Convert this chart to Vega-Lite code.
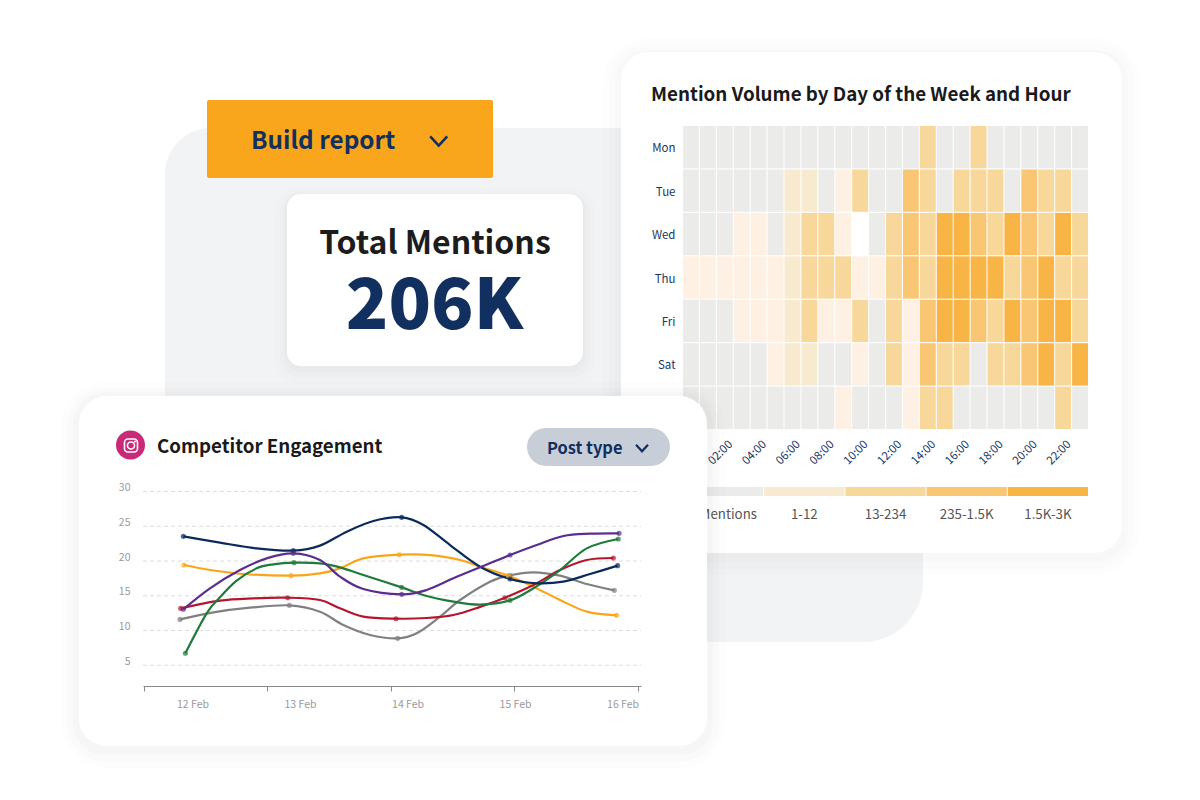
{
"$schema":"https://vega.github.io/schema/vega-lite/v6.json",
"width":1200,"height":800,"padding":0,"autosize":{"type":"none"},"background":"#ffffff",
"config":{"view":{"stroke":null},"font":"Noto Sans CJK SC","text":{"font":"Noto Sans CJK SC"}},
"data":{"values":[{}]},
"resolve":{"scale":{"x":"independent","y":"independent","color":"independent"},"axis":{"x":"independent","y":"independent"}},
"layer":[
{"mark":{"type":"rect","x":165,"x2":923,"y":128,"y2":642,"fill":"#f2f3f5","cornerRadiusTopLeft":46,"cornerRadiusBottomRight":60},"encoding":{}},

{"mark":{"type":"rect","x":603,"x2":1140,"y":38,"y2":575,"fill":"#000","opacity":0.006,"cornerRadius":44},"encoding":{}},
{"mark":{"type":"rect","x":609,"x2":1134,"y":44,"y2":569,"fill":"#000","opacity":0.008,"cornerRadius":38},"encoding":{}},
{"mark":{"type":"rect","x":615,"x2":1128,"y":50,"y2":562,"fill":"#000","opacity":0.01,"cornerRadius":32},"encoding":{}},
{"mark":{"type":"rect","x":621,"x2":1122,"y":52,"y2":553,"fill":"#ffffff","cornerRadius":28},"encoding":{}},
{"mark":{"type":"text","x":651,"y":101,"align":"left","baseline":"alphabetic","fontSize":18.8,"fontWeight":700,"fill":"#1a1a1a","text":"Mention Volume by Day of the Week and Hour"},"encoding":{}},

{"data":{"values":[
{"d":"Mon","h":"00:00","b":"0 Mentions"},{"d":"Mon","h":"01:00","b":"0 Mentions"},{"d":"Mon","h":"02:00","b":"0 Mentions"},{"d":"Mon","h":"03:00","b":"0 Mentions"},{"d":"Mon","h":"04:00","b":"0 Mentions"},{"d":"Mon","h":"05:00","b":"0 Mentions"},{"d":"Mon","h":"06:00","b":"0 Mentions"},{"d":"Mon","h":"07:00","b":"0 Mentions"},{"d":"Mon","h":"08:00","b":"0 Mentions"},{"d":"Mon","h":"09:00","b":"0 Mentions"},{"d":"Mon","h":"10:00","b":"0 Mentions"},{"d":"Mon","h":"11:00","b":"0 Mentions"},{"d":"Mon","h":"12:00","b":"0 Mentions"},{"d":"Mon","h":"13:00","b":"0 Mentions"},{"d":"Mon","h":"14:00","b":"13-234"},{"d":"Mon","h":"15:00","b":"0 Mentions"},{"d":"Mon","h":"16:00","b":"0 Mentions"},{"d":"Mon","h":"17:00","b":"13-234"},{"d":"Mon","h":"18:00","b":"0 Mentions"},{"d":"Mon","h":"19:00","b":"0 Mentions"},{"d":"Mon","h":"20:00","b":"0 Mentions"},{"d":"Mon","h":"21:00","b":"0 Mentions"},{"d":"Mon","h":"22:00","b":"0 Mentions"},{"d":"Mon","h":"23:00","b":"0 Mentions"},
{"d":"Tue","h":"00:00","b":"0 Mentions"},{"d":"Tue","h":"01:00","b":"0 Mentions"},{"d":"Tue","h":"02:00","b":"0 Mentions"},{"d":"Tue","h":"03:00","b":"0 Mentions"},{"d":"Tue","h":"04:00","b":"0 Mentions"},{"d":"Tue","h":"05:00","b":"0 Mentions"},{"d":"Tue","h":"06:00","b":"1-12"},{"d":"Tue","h":"07:00","b":"1-12"},{"d":"Tue","h":"08:00","b":"0 Mentions"},{"d":"Tue","h":"09:00","b":"trace"},{"d":"Tue","h":"10:00","b":"13-234"},{"d":"Tue","h":"11:00","b":"0 Mentions"},{"d":"Tue","h":"12:00","b":"0 Mentions"},{"d":"Tue","h":"13:00","b":"235-1.5K"},{"d":"Tue","h":"14:00","b":"13-234"},{"d":"Tue","h":"15:00","b":"0 Mentions"},{"d":"Tue","h":"16:00","b":"13-234"},{"d":"Tue","h":"17:00","b":"13-234"},{"d":"Tue","h":"18:00","b":"13-234"},{"d":"Tue","h":"19:00","b":"0 Mentions"},{"d":"Tue","h":"20:00","b":"235-1.5K"},{"d":"Tue","h":"21:00","b":"13-234"},{"d":"Tue","h":"22:00","b":"13-234"},{"d":"Tue","h":"23:00","b":"0 Mentions"},
{"d":"Wed","h":"00:00","b":"0 Mentions"},{"d":"Wed","h":"01:00","b":"0 Mentions"},{"d":"Wed","h":"02:00","b":"0 Mentions"},{"d":"Wed","h":"03:00","b":"trace"},{"d":"Wed","h":"04:00","b":"trace"},{"d":"Wed","h":"05:00","b":"0 Mentions"},{"d":"Wed","h":"06:00","b":"1-12"},{"d":"Wed","h":"07:00","b":"13-234"},{"d":"Wed","h":"08:00","b":"13-234"},{"d":"Wed","h":"09:00","b":"trace"},{"d":"Wed","h":"10:00","b":"none"},{"d":"Wed","h":"11:00","b":"0 Mentions"},{"d":"Wed","h":"12:00","b":"13-234"},{"d":"Wed","h":"13:00","b":"235-1.5K"},{"d":"Wed","h":"14:00","b":"13-234"},{"d":"Wed","h":"15:00","b":"1.5K-3K"},{"d":"Wed","h":"16:00","b":"1.5K-3K"},{"d":"Wed","h":"17:00","b":"235-1.5K"},{"d":"Wed","h":"18:00","b":"13-234"},{"d":"Wed","h":"19:00","b":"1.5K-3K"},{"d":"Wed","h":"20:00","b":"235-1.5K"},{"d":"Wed","h":"21:00","b":"13-234"},{"d":"Wed","h":"22:00","b":"1.5K-3K"},{"d":"Wed","h":"23:00","b":"13-234"},
{"d":"Thu","h":"00:00","b":"trace"},{"d":"Thu","h":"01:00","b":"trace"},{"d":"Thu","h":"02:00","b":"trace"},{"d":"Thu","h":"03:00","b":"trace"},{"d":"Thu","h":"04:00","b":"trace"},{"d":"Thu","h":"05:00","b":"trace"},{"d":"Thu","h":"06:00","b":"1-12"},{"d":"Thu","h":"07:00","b":"13-234"},{"d":"Thu","h":"08:00","b":"13-234"},{"d":"Thu","h":"09:00","b":"13-234"},{"d":"Thu","h":"10:00","b":"trace"},{"d":"Thu","h":"11:00","b":"trace"},{"d":"Thu","h":"12:00","b":"13-234"},{"d":"Thu","h":"13:00","b":"235-1.5K"},{"d":"Thu","h":"14:00","b":"13-234"},{"d":"Thu","h":"15:00","b":"1.5K-3K"},{"d":"Thu","h":"16:00","b":"1.5K-3K"},{"d":"Thu","h":"17:00","b":"1.5K-3K"},{"d":"Thu","h":"18:00","b":"1.5K-3K"},{"d":"Thu","h":"19:00","b":"13-234"},{"d":"Thu","h":"20:00","b":"235-1.5K"},{"d":"Thu","h":"21:00","b":"1.5K-3K"},{"d":"Thu","h":"22:00","b":"13-234"},{"d":"Thu","h":"23:00","b":"13-234"},
{"d":"Fri","h":"00:00","b":"0 Mentions"},{"d":"Fri","h":"01:00","b":"0 Mentions"},{"d":"Fri","h":"02:00","b":"0 Mentions"},{"d":"Fri","h":"03:00","b":"trace"},{"d":"Fri","h":"04:00","b":"trace"},{"d":"Fri","h":"05:00","b":"trace"},{"d":"Fri","h":"06:00","b":"1-12"},{"d":"Fri","h":"07:00","b":"13-234"},{"d":"Fri","h":"08:00","b":"trace"},{"d":"Fri","h":"09:00","b":"trace"},{"d":"Fri","h":"10:00","b":"13-234"},{"d":"Fri","h":"11:00","b":"0 Mentions"},{"d":"Fri","h":"12:00","b":"13-234"},{"d":"Fri","h":"13:00","b":"trace"},{"d":"Fri","h":"14:00","b":"235-1.5K"},{"d":"Fri","h":"15:00","b":"1.5K-3K"},{"d":"Fri","h":"16:00","b":"1.5K-3K"},{"d":"Fri","h":"17:00","b":"235-1.5K"},{"d":"Fri","h":"18:00","b":"13-234"},{"d":"Fri","h":"19:00","b":"1.5K-3K"},{"d":"Fri","h":"20:00","b":"235-1.5K"},{"d":"Fri","h":"21:00","b":"1.5K-3K"},{"d":"Fri","h":"22:00","b":"1.5K-3K"},{"d":"Fri","h":"23:00","b":"13-234"},
{"d":"Sat","h":"00:00","b":"0 Mentions"},{"d":"Sat","h":"01:00","b":"0 Mentions"},{"d":"Sat","h":"02:00","b":"0 Mentions"},{"d":"Sat","h":"03:00","b":"0 Mentions"},{"d":"Sat","h":"04:00","b":"0 Mentions"},{"d":"Sat","h":"05:00","b":"trace"},{"d":"Sat","h":"06:00","b":"1-12"},{"d":"Sat","h":"07:00","b":"1-12"},{"d":"Sat","h":"08:00","b":"0 Mentions"},{"d":"Sat","h":"09:00","b":"0 Mentions"},{"d":"Sat","h":"10:00","b":"trace"},{"d":"Sat","h":"11:00","b":"0 Mentions"},{"d":"Sat","h":"12:00","b":"13-234"},{"d":"Sat","h":"13:00","b":"trace"},{"d":"Sat","h":"14:00","b":"235-1.5K"},{"d":"Sat","h":"15:00","b":"13-234"},{"d":"Sat","h":"16:00","b":"13-234"},{"d":"Sat","h":"17:00","b":"0 Mentions"},{"d":"Sat","h":"18:00","b":"13-234"},{"d":"Sat","h":"19:00","b":"13-234"},{"d":"Sat","h":"20:00","b":"235-1.5K"},{"d":"Sat","h":"21:00","b":"1.5K-3K"},{"d":"Sat","h":"22:00","b":"13-234"},{"d":"Sat","h":"23:00","b":"1.5K-3K"},
{"d":"Sun","h":"00:00","b":"0 Mentions"},{"d":"Sun","h":"01:00","b":"0 Mentions"},{"d":"Sun","h":"02:00","b":"0 Mentions"},{"d":"Sun","h":"03:00","b":"0 Mentions"},{"d":"Sun","h":"04:00","b":"0 Mentions"},{"d":"Sun","h":"05:00","b":"0 Mentions"},{"d":"Sun","h":"06:00","b":"0 Mentions"},{"d":"Sun","h":"07:00","b":"0 Mentions"},{"d":"Sun","h":"08:00","b":"0 Mentions"},{"d":"Sun","h":"09:00","b":"trace"},{"d":"Sun","h":"10:00","b":"0 Mentions"},{"d":"Sun","h":"11:00","b":"0 Mentions"},{"d":"Sun","h":"12:00","b":"0 Mentions"},{"d":"Sun","h":"13:00","b":"trace"},{"d":"Sun","h":"14:00","b":"13-234"},{"d":"Sun","h":"15:00","b":"13-234"},{"d":"Sun","h":"16:00","b":"0 Mentions"},{"d":"Sun","h":"17:00","b":"0 Mentions"},{"d":"Sun","h":"18:00","b":"0 Mentions"},{"d":"Sun","h":"19:00","b":"0 Mentions"},{"d":"Sun","h":"20:00","b":"0 Mentions"},{"d":"Sun","h":"21:00","b":"0 Mentions"},{"d":"Sun","h":"22:00","b":"13-234"},{"d":"Sun","h":"23:00","b":"0 Mentions"}
]},
"mark":{"type":"rect"},
"encoding":{
"x":{"field":"h","type":"ordinal","sort":null,"scale":{"type":"band","range":[683,1088],"paddingInner":0.06,"paddingOuter":0},
"axis":{"orient":"bottom","offset":-371,"title":null,"domain":false,"ticks":false,"grid":false,"zindex":1,"labelAngle":-45,"labelFontSize":11.5,"labelColor":"#1a3666","labelFont":"Noto Sans CJK SC","labelPadding":9,"labelOffset":2,"labelOverlap":false,"values":["02:00","04:00","06:00","08:00","10:00","12:00","14:00","16:00","18:00","20:00","22:00"]}},
"y":{"field":"d","type":"ordinal","sort":null,"scale":{"type":"band","range":[126,429],"paddingInner":0.025,"paddingOuter":0},
"axis":{"orient":"left","offset":-683,"title":null,"domain":false,"ticks":false,"grid":false,"zindex":1,"labelFontSize":11.5,"labelColor":"#1a3666","labelFont":"Noto Sans CJK SC","labelPadding":8,"labelOffset":2,"values":["Mon","Tue","Wed","Thu","Fri","Sat"]}},
"color":{"field":"b","type":"nominal","legend":null,"scale":{"domain":["none","trace","0 Mentions","1-12","13-234","235-1.5K","1.5K-3K"],"range":["#ffffff","#fef1e3","#ebebea","#f8eacf","#f8d79a","#f9c673","#f8b445"]}}
}},

{"data":{"values":[{"bucket":"0 Mentions"},{"bucket":"1-12"},{"bucket":"13-234"},{"bucket":"235-1.5K"},{"bucket":"1.5K-3K"}]},
"layer":[
{"mark":{"type":"rect","y":487,"y2":496},
"encoding":{"x":{"field":"bucket","type":"ordinal","sort":null,"axis":null,"scale":{"type":"band","range":[683,1088],"paddingInner":0.012,"paddingOuter":0}},
"color":{"field":"bucket","type":"nominal","legend":null,"scale":{"domain":["0 Mentions","1-12","13-234","235-1.5K","1.5K-3K"],"range":["#ebebea","#f8eacf","#f8d79a","#f9c673","#f8b445"]}}}},
{"mark":{"type":"text","y":514.5,"fontSize":13.3,"fill":"#555555","baseline":"middle"},
"encoding":{"x":{"field":"bucket","type":"ordinal","sort":null,"axis":null,"scale":{"type":"band","range":[683,1088],"paddingInner":0.012,"paddingOuter":0}},"text":{"field":"bucket"}}}
]},

{"mark":{"type":"rect","x":207,"x2":493,"y":100,"y2":178,"fill":"#f9a61c","cornerRadius":2},"encoding":{}},
{"mark":{"type":"text","x":251,"y":142,"align":"left","baseline":"middle","fontSize":24.3,"fontWeight":700,"fill":"#12305f","text":"Build report"},"encoding":{}},
{"mark":{"type":"point","x":438.7,"y":141,"shape":"M-1,-0.55L0,0.55L1,-0.55","filled":false,"stroke":"#12305f","strokeWidth":2.6,"size":289,"opacity":1},"encoding":{}},

{"mark":{"type":"rect","x":275,"x2":595,"y":188,"y2":384,"fill":"#000","opacity":0.008,"cornerRadius":24},"encoding":{}},
{"mark":{"type":"rect","x":280,"x2":590,"y":192,"y2":378,"fill":"#000","opacity":0.012,"cornerRadius":20},"encoding":{}},
{"mark":{"type":"rect","x":284,"x2":586,"y":194,"y2":372,"fill":"#000","opacity":0.016,"cornerRadius":16},"encoding":{}},
{"mark":{"type":"rect","x":287,"x2":583,"y":194,"y2":366,"fill":"#ffffff","cornerRadius":14},"encoding":{}},
{"mark":{"type":"text","x":435,"y":254,"align":"center","baseline":"alphabetic","fontSize":32,"fontWeight":700,"fill":"#1c1c1c","text":"Total Mentions"},"encoding":{}},
{"mark":{"type":"text","x":434.5,"y":329,"align":"center","baseline":"alphabetic","fontSize":70,"fontWeight":900,"fill":"#12305f","text":"206K"},"encoding":{}},

{"mark":{"type":"rect","x":61,"x2":725,"y":382,"y2":768,"fill":"#000","opacity":0.008,"cornerRadius":44},"encoding":{}},
{"mark":{"type":"rect","x":67,"x2":719,"y":388,"y2":762,"fill":"#000","opacity":0.012,"cornerRadius":38},"encoding":{}},
{"mark":{"type":"rect","x":73,"x2":713,"y":392,"y2":755,"fill":"#000","opacity":0.016,"cornerRadius":32},"encoding":{}},
{"mark":{"type":"rect","x":79,"x2":707,"y":396,"y2":746,"fill":"#ffffff","cornerRadius":28},"encoding":{}},

{"mark":{"type":"point","x":130.5,"y":445,"shape":"circle","filled":true,"fill":"#c92a78","size":841,"opacity":1},"encoding":{}},
{"mark":{"type":"rect","x":124.5,"x2":137.5,"y":439,"y2":452,"fillOpacity":0,"stroke":"#ffffff","strokeWidth":1.6,"cornerRadius":3.5},"encoding":{}},
{"mark":{"type":"point","x":131,"y":445.5,"shape":"circle","filled":false,"stroke":"#ffffff","strokeWidth":1.6,"size":50,"opacity":1},"encoding":{}},
{"mark":{"type":"point","x":135,"y":441.5,"shape":"circle","filled":true,"fill":"#ffffff","size":5,"opacity":1},"encoding":{}},
{"mark":{"type":"text","x":157,"y":453,"align":"left","baseline":"alphabetic","fontSize":18.7,"fontWeight":700,"fill":"#1a1a1a","text":"Competitor Engagement"},"encoding":{}},
{"mark":{"type":"rect","x":527,"x2":670,"y":428,"y2":466,"fill":"#c8ced7","cornerRadius":19},"encoding":{}},
{"mark":{"type":"text","x":547,"y":449,"align":"left","baseline":"middle","fontSize":16.4,"fontWeight":700,"fill":"#12305f","text":"Post type"},"encoding":{}},
{"mark":{"type":"point","x":642,"y":448,"shape":"M-1,-0.55L0,0.55L1,-0.55","filled":false,"stroke":"#12305f","strokeWidth":2.2,"size":144,"opacity":1},"encoding":{}},

{"layer":[
{"data":{"values":[{"tick":5},{"tick":10},{"tick":15},{"tick":20},{"tick":25},{"tick":30}]},
"mark":{"type":"rule","stroke":"#dddddd","strokeWidth":1,"strokeDash":[4,3]},
"encoding":{
"y":{"field":"tick","type":"quantitative","scale":{"domain":[2,30],"range":[686.1,491.5],"nice":false,"zero":false},
"axis":{"orient":"left","offset":-134,"title":null,"domain":false,"ticks":false,"grid":false,"zindex":1,"values":[5,10,15,20,25,30],"labelFontSize":10.5,"labelColor":"#9a9a9a","labelFont":"Noto Sans CJK SC","labelPadding":4,"labelOffset":-4}},
"x":{"datum":11.535,"type":"quantitative","scale":{"domain":[11.535,16.167],"range":[143,641],"nice":false,"zero":false},
"axis":{"orient":"bottom","offset":-114,"title":null,"labels":false,"grid":false,"zindex":1,"values":[11.544,12.688,13.842,14.986,16.14],"domainColor":"#8a8a8a","tickColor":"#8a8a8a","tickSize":5}},
"x2":{"datum":16.167}
}},
{"data":{"values":[{"day":12,"label":"12 Feb"},{"day":13,"label":"13 Feb"},{"day":14,"label":"14 Feb"},{"day":15,"label":"15 Feb"},{"day":16,"label":"16 Feb"}]},
"mark":{"type":"text","y":705,"fontSize":10.5,"fill":"#9a9a9a","baseline":"middle"},
"encoding":{"x":{"field":"day","type":"quantitative"},"text":{"field":"label"}}},
{"data":{"values":[
{"s":"Gray","x":11.879,"v":11.6},{"s":"Gray","x":12.19,"v":12.61},{"s":"Gray","x":12.53,"v":13.28},{"s":"Gray","x":12.896,"v":13.62},{"s":"Gray","x":13.181,"v":12.71},{"s":"Gray","x":13.398,"v":10.79},{"s":"Gray","x":13.647,"v":9.35},{"s":"Gray","x":13.904,"v":8.87},{"s":"Gray","x":14.081,"v":9.59},{"s":"Gray","x":14.298,"v":11.99},{"s":"Gray","x":14.484,"v":14.39},{"s":"Gray","x":14.763,"v":17.03},{"s":"Gray","x":14.949,"v":17.95},{"s":"Gray","x":15.166,"v":18.37},{"s":"Gray","x":15.414,"v":17.89},{"s":"Gray","x":15.662,"v":16.69},{"s":"Gray","x":15.919,"v":15.78},
{"s":"Orange","x":11.916,"v":19.42},{"s":"Orange","x":12.158,"v":18.71},{"s":"Orange","x":12.468,"v":18.13},{"s":"Orange","x":12.912,"v":17.89},{"s":"Orange","x":13.181,"v":18.22},{"s":"Orange","x":13.367,"v":18.94},{"s":"Orange","x":13.584,"v":20.38},{"s":"Orange","x":13.919,"v":20.91},{"s":"Orange","x":14.235,"v":20.82},{"s":"Orange","x":14.484,"v":20.15},{"s":"Orange","x":14.67,"v":19.18},{"s":"Orange","x":14.934,"v":17.89},{"s":"Orange","x":15.166,"v":16.31},{"s":"Orange","x":15.414,"v":14.39},{"s":"Orange","x":15.662,"v":12.71},{"s":"Orange","x":15.94,"v":12.18},
{"s":"Red","x":11.885,"v":13.19},{"s":"Red","x":12.251,"v":14.3},{"s":"Red","x":12.561,"v":14.63},{"s":"Red","x":12.881,"v":14.72},{"s":"Red","x":13.181,"v":14.39},{"s":"Red","x":13.367,"v":13.19},{"s":"Red","x":13.584,"v":11.99},{"s":"Red","x":13.888,"v":11.7},{"s":"Red","x":14.174,"v":11.8},{"s":"Red","x":14.422,"v":12.23},{"s":"Red","x":14.67,"v":13.4},{"s":"Red","x":14.902,"v":14.72},{"s":"Red","x":15.166,"v":16.54},{"s":"Red","x":15.414,"v":18.7},{"s":"Red","x":15.662,"v":20.14},{"s":"Red","x":15.91,"v":20.43},
{"s":"Green","x":11.929,"v":6.72},{"s":"Green","x":12.127,"v":12.47},{"s":"Green","x":12.251,"v":14.77},{"s":"Green","x":12.406,"v":17.17},{"s":"Green","x":12.592,"v":18.95},{"s":"Green","x":12.747,"v":19.52},{"s":"Green","x":12.94,"v":19.76},{"s":"Green","x":13.181,"v":19.66},{"s":"Green","x":13.367,"v":19.09},{"s":"Green","x":13.584,"v":17.99},{"s":"Green","x":13.941,"v":16.21},{"s":"Green","x":14.174,"v":14.96},{"s":"Green","x":14.422,"v":14.15},{"s":"Green","x":14.67,"v":13.72},{"s":"Green","x":14.949,"v":14.34},{"s":"Green","x":15.166,"v":16.07},{"s":"Green","x":15.414,"v":18.7},{"s":"Green","x":15.662,"v":21.82},{"s":"Green","x":15.956,"v":23.17},
{"s":"Navy","x":11.91,"v":23.55},{"s":"Navy","x":12.251,"v":22.64},{"s":"Navy","x":12.592,"v":21.82},{"s":"Navy","x":12.933,"v":21.49},{"s":"Navy","x":13.181,"v":22.21},{"s":"Navy","x":13.43,"v":24.22},{"s":"Navy","x":13.678,"v":25.76},{"s":"Navy","x":13.941,"v":26.28},{"s":"Navy","x":14.143,"v":25.18},{"s":"Navy","x":14.391,"v":22.3},{"s":"Navy","x":14.67,"v":19.18},{"s":"Navy","x":14.949,"v":17.41},{"s":"Navy","x":15.197,"v":16.79},{"s":"Navy","x":15.445,"v":17.03},{"s":"Navy","x":15.693,"v":18.13},{"s":"Navy","x":15.95,"v":19.33},
{"s":"Purple","x":11.91,"v":13.05},{"s":"Purple","x":12.158,"v":16.07},{"s":"Purple","x":12.437,"v":18.7},{"s":"Purple","x":12.685,"v":20.38},{"s":"Purple","x":12.933,"v":21.1},{"s":"Purple","x":13.181,"v":20.14},{"s":"Purple","x":13.367,"v":17.75},{"s":"Purple","x":13.584,"v":15.97},{"s":"Purple","x":13.941,"v":15.2},{"s":"Purple","x":14.174,"v":15.83},{"s":"Purple","x":14.422,"v":17.51},{"s":"Purple","x":14.67,"v":19.09},{"s":"Purple","x":14.949,"v":20.86},{"s":"Purple","x":15.197,"v":22.3},{"s":"Purple","x":15.445,"v":23.6},{"s":"Purple","x":15.693,"v":23.93},{"s":"Purple","x":15.963,"v":23.98}
]},
"mark":{"type":"line","interpolate":"cardinal","strokeWidth":2.2},
"encoding":{"x":{"field":"x","type":"quantitative"},"y":{"field":"v","type":"quantitative"},
"color":{"field":"s","type":"nominal","sort":null,"legend":null,"scale":{"domain":["Gray","Orange","Red","Green","Navy","Purple"],"range":["#808080","#f9a51a","#b5162f","#1e7b3a","#0b2a5c","#5b2d8e"]}}}},
{"data":{"values":[
{"s":"Gray","x":11.879,"v":11.6},{"s":"Gray","x":12.896,"v":13.62},{"s":"Gray","x":13.904,"v":8.87},{"s":"Gray","x":14.949,"v":17.95},{"s":"Gray","x":15.919,"v":15.78},
{"s":"Orange","x":11.916,"v":19.42},{"s":"Orange","x":12.912,"v":17.89},{"s":"Orange","x":13.919,"v":20.91},{"s":"Orange","x":14.934,"v":17.89},{"s":"Orange","x":15.94,"v":12.18},
{"s":"Red","x":11.885,"v":13.19},{"s":"Red","x":12.881,"v":14.72},{"s":"Red","x":13.888,"v":11.7},{"s":"Red","x":14.902,"v":14.72},{"s":"Red","x":15.91,"v":20.43},
{"s":"Green","x":11.929,"v":6.72},{"s":"Green","x":12.94,"v":19.76},{"s":"Green","x":13.941,"v":16.21},{"s":"Green","x":14.949,"v":14.34},{"s":"Green","x":15.956,"v":23.17},
{"s":"Navy","x":11.91,"v":23.55},{"s":"Navy","x":12.933,"v":21.49},{"s":"Navy","x":13.941,"v":26.28},{"s":"Navy","x":14.949,"v":17.41},{"s":"Navy","x":15.95,"v":19.33},
{"s":"Purple","x":11.91,"v":13.05},{"s":"Purple","x":12.933,"v":21.1},{"s":"Purple","x":13.941,"v":15.2},{"s":"Purple","x":14.949,"v":20.86},{"s":"Purple","x":15.963,"v":23.98}
]},
"mark":{"type":"point","filled":true,"size":26,"opacity":0.7},
"encoding":{"x":{"field":"x","type":"quantitative"},"y":{"field":"v","type":"quantitative"},
"color":{"field":"s","type":"nominal","sort":null,"legend":null,"scale":{"domain":["Gray","Orange","Red","Green","Navy","Purple"],"range":["#808080","#f9a51a","#b5162f","#1e7b3a","#0b2a5c","#5b2d8e"]}}}}
]}
]
}
